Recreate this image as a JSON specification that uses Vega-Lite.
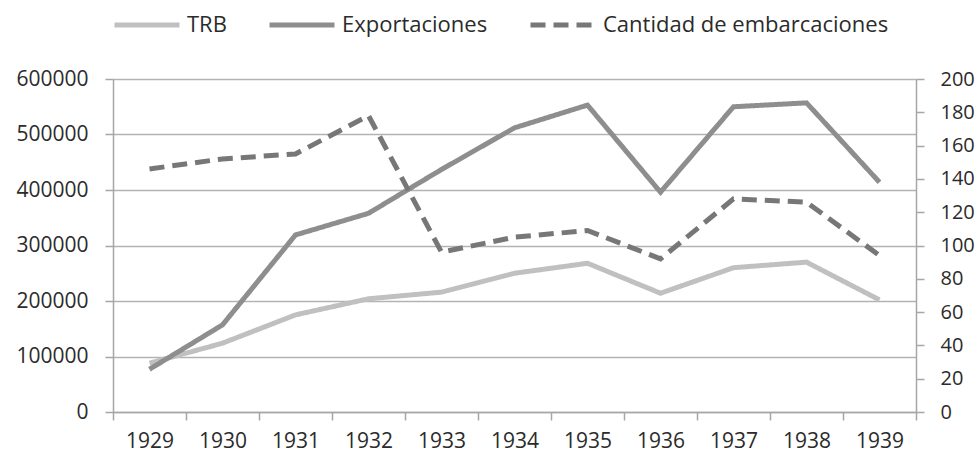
{
  "$schema": "https://vega.github.io/schema/vega-lite/v6.json",
  "width": 803,
  "height": 333,
  "autosize": "none",
  "padding": {"left": 113, "top": 79, "right": 63, "bottom": 43},
  "background": "white",
  "config": {
    "view": {"stroke": null},
    "font": "Open Sans",
    "axis": {
      "labelFont": "Open Sans",
      "labelFontSize": 21,
      "labelColor": "#2b2b2b",
      "domainColor": "#a6a6a6",
      "domainWidth": 1.5,
      "tickColor": "#a6a6a6",
      "tickWidth": 1.5,
      "tickSize": 8,
      "gridColor": "#b3b3b3",
      "gridWidth": 1.3,
      "title": null
    },
    "legend": {
      "labelFont": "Open Sans",
      "labelFontSize": 22,
      "labelColor": "#2b2b2b",
      "labelLimit": 500,
      "symbolType": "stroke",
      "symbolSize": 4225,
      "symbolStrokeWidth": 5,
      "labelOffset": 5,
      "columnPadding": 32
    }
  },
  "data": {
    "values": [
      {"anio": "1929", "serie": "TRB", "valor": 88000},
      {"anio": "1930", "serie": "TRB", "valor": 124000},
      {"anio": "1931", "serie": "TRB", "valor": 175000},
      {"anio": "1932", "serie": "TRB", "valor": 204000},
      {"anio": "1933", "serie": "TRB", "valor": 216000},
      {"anio": "1934", "serie": "TRB", "valor": 250000},
      {"anio": "1935", "serie": "TRB", "valor": 268000},
      {"anio": "1936", "serie": "TRB", "valor": 214000},
      {"anio": "1937", "serie": "TRB", "valor": 260000},
      {"anio": "1938", "serie": "TRB", "valor": 270000},
      {"anio": "1939", "serie": "TRB", "valor": 202000},
      {"anio": "1929", "serie": "Exportaciones", "valor": 77000},
      {"anio": "1930", "serie": "Exportaciones", "valor": 157000},
      {"anio": "1931", "serie": "Exportaciones", "valor": 319000},
      {"anio": "1932", "serie": "Exportaciones", "valor": 358000},
      {"anio": "1933", "serie": "Exportaciones", "valor": 437000},
      {"anio": "1934", "serie": "Exportaciones", "valor": 512000},
      {"anio": "1935", "serie": "Exportaciones", "valor": 553000},
      {"anio": "1936", "serie": "Exportaciones", "valor": 396000},
      {"anio": "1937", "serie": "Exportaciones", "valor": 550000},
      {"anio": "1938", "serie": "Exportaciones", "valor": 557000},
      {"anio": "1939", "serie": "Exportaciones", "valor": 414000},
      {"anio": "1929", "serie": "Cantidad de embarcaciones", "valor": 146},
      {"anio": "1930", "serie": "Cantidad de embarcaciones", "valor": 152},
      {"anio": "1931", "serie": "Cantidad de embarcaciones", "valor": 155},
      {"anio": "1932", "serie": "Cantidad de embarcaciones", "valor": 178},
      {"anio": "1933", "serie": "Cantidad de embarcaciones", "valor": 96},
      {"anio": "1934", "serie": "Cantidad de embarcaciones", "valor": 105},
      {"anio": "1935", "serie": "Cantidad de embarcaciones", "valor": 109},
      {"anio": "1936", "serie": "Cantidad de embarcaciones", "valor": 92},
      {"anio": "1937", "serie": "Cantidad de embarcaciones", "valor": 128},
      {"anio": "1938", "serie": "Cantidad de embarcaciones", "valor": 126},
      {"anio": "1939", "serie": "Cantidad de embarcaciones", "valor": 94}
    ]
  },
  "encoding": {
    "x": {
      "field": "anio",
      "type": "ordinal",
      "scale": {"type": "band", "paddingInner": 0, "paddingOuter": 0},
      "axis": {"labelAngle": 0, "tickBand": "extent", "labelPadding": 10, "grid": false}
    },
    "color": {
      "field": "serie",
      "type": "nominal",
      "scale": {
        "domain": ["TRB", "Exportaciones", "Cantidad de embarcaciones"],
        "range": ["#c0c0c0", "#8e8e8e", "#777777"]
      },
      "legend": {
        "title": null,
        "orient": "none",
        "direction": "horizontal",
        "legendX": -1,
        "legendY": -89
      }
    },
    "strokeDash": {
      "field": "serie",
      "type": "nominal",
      "scale": {
        "domain": ["TRB", "Exportaciones", "Cantidad de embarcaciones"],
        "range": [[1, 0], [1, 0], [15, 8]]
      },
      "legend": {
        "title": null,
        "orient": "none",
        "direction": "horizontal",
        "legendX": -1,
        "legendY": -89
      }
    }
  },
  "layer": [
    {
      "transform": [{"filter": "datum.serie !== 'Cantidad de embarcaciones'"}],
      "mark": {"type": "line", "strokeWidth": 5, "strokeJoin": "miter"},
      "encoding": {
        "y": {
          "field": "valor",
          "type": "quantitative",
          "scale": {"domain": [0, 600000], "nice": false},
          "axis": {
            "orient": "left",
            "values": [0, 100000, 200000, 300000, 400000, 500000, 600000],
            "format": "d",
            "grid": true,
            "labelPadding": 17
          }
        }
      }
    },
    {
      "transform": [{"filter": "datum.serie === 'Cantidad de embarcaciones'"}],
      "mark": {"type": "line", "strokeWidth": 5, "strokeJoin": "miter"},
      "encoding": {
        "y": {
          "field": "valor",
          "type": "quantitative",
          "scale": {"domain": [0, 200], "nice": false},
          "axis": {
            "orient": "right",
            "values": [0, 20, 40, 60, 80, 100, 120, 140, 160, 180, 200],
            "grid": false,
            "labelPadding": 16,
            "labelFontSize": 20
          }
        }
      }
    }
  ],
  "resolve": {"scale": {"y": "independent"}}
}
